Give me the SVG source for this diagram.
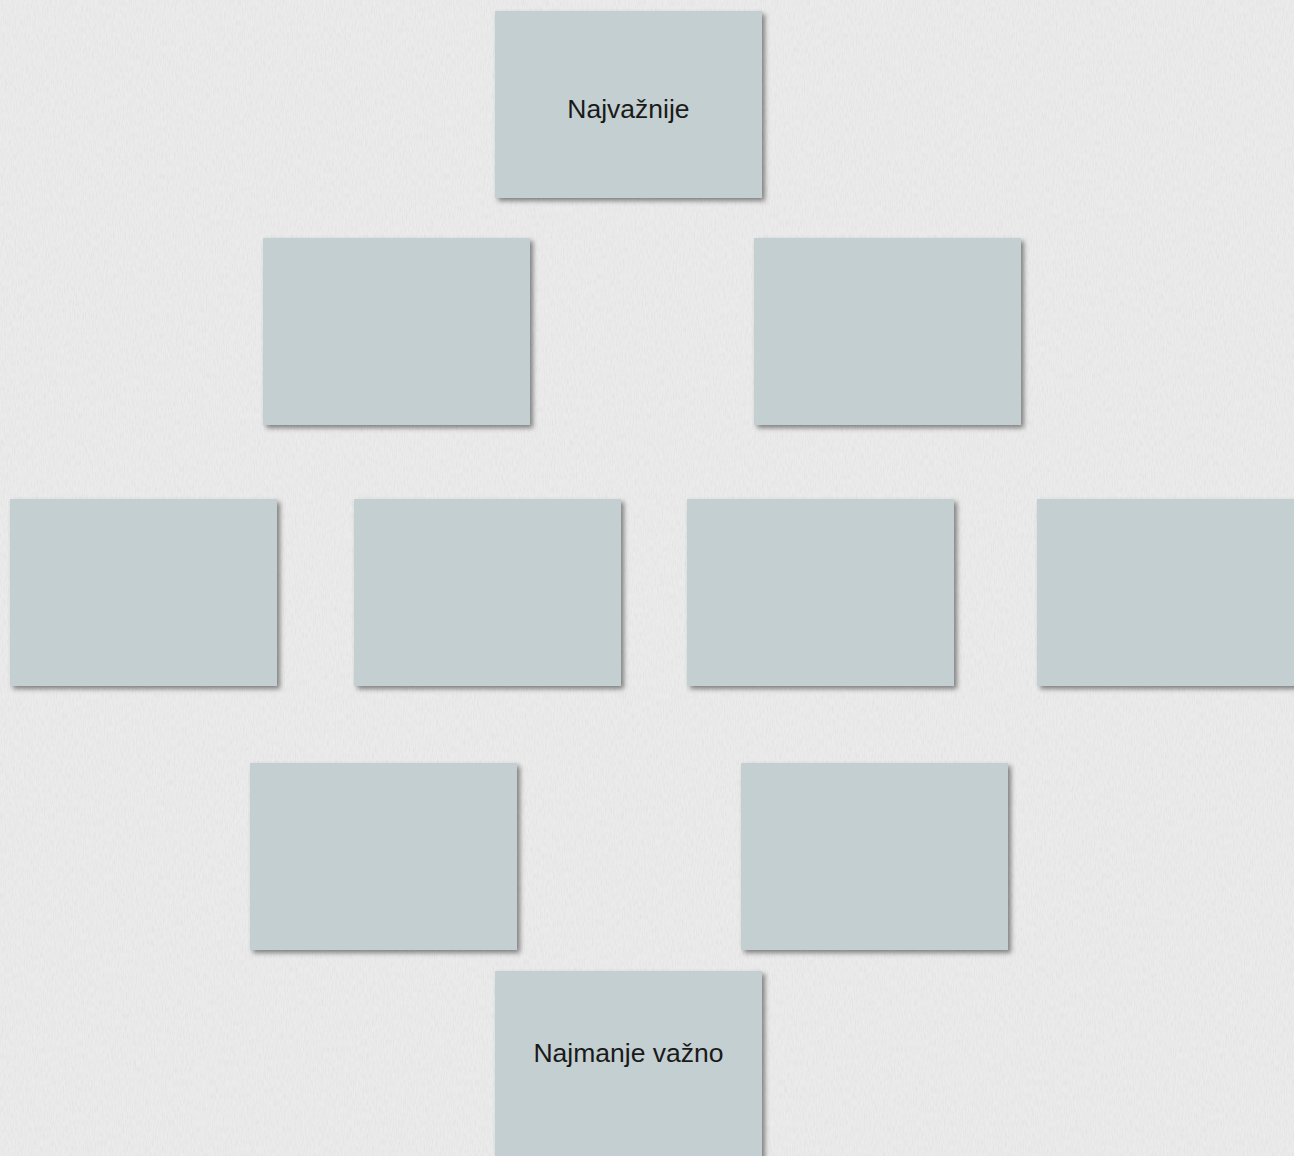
<svg xmlns="http://www.w3.org/2000/svg" width="1294" height="1156" viewBox="0 0 1294 1156">
<style>
.box{fill:#c3cfd0;filter:url(#sh)}
.lbl{font-family:"Liberation Sans",Arial,sans-serif;font-size:26.5px;fill:#1a1a1a;text-anchor:middle}
</style>
<defs>
<filter id="sh" x="-10%" y="-10%" width="125%" height="125%">
<feDropShadow dx="3" dy="3" stdDeviation="2.5" flood-color="#000" flood-opacity="0.45"/>
</filter>
<filter id="tex" x="0" y="0" width="100%" height="100%">
<feTurbulence type="fractalNoise" baseFrequency="0.9 0.15" numOctaves="2" seed="3" result="n"/>
<feColorMatrix in="n" type="matrix" values="0 0 0 0 0.55  0 0 0 0 0.55  0 0 0 0 0.55  0 0 0 -1.2 0.75" result="a"/>
<feComposite in="a" in2="SourceGraphic" operator="in"/>
</filter>
</defs>
<rect width="1294" height="1156" fill="#ebebeb"/>
<rect width="1294" height="1156" fill="#ebebeb" filter="url(#tex)" opacity="0.35"/>
<g id="connectors"/>
<g id="n-top"><rect class="box" x="495" y="11" width="267" height="187"/><text class="lbl" x="628.5" y="118">Najvažnije</text></g>
<g id="n-r2a"><rect class="box" x="263" y="238" width="267" height="187"/></g>
<g id="n-r2b"><rect class="box" x="754" y="238" width="267" height="187"/></g>
<g id="n-r3a"><rect class="box" x="10" y="499" width="267" height="187"/></g>
<g id="n-r3b"><rect class="box" x="354" y="499" width="267" height="187"/></g>
<g id="n-r3c"><rect class="box" x="687" y="499" width="267" height="187"/></g>
<g id="n-r3d"><rect class="box" x="1037" y="499" width="267" height="187"/></g>
<g id="n-r4a"><rect class="box" x="250" y="763" width="267" height="187"/></g>
<g id="n-r4b"><rect class="box" x="741" y="763" width="267" height="187"/></g>
<g id="n-bottom"><rect class="box" x="495" y="971" width="267" height="200"/><text class="lbl" x="628.5" y="1062">Najmanje važno</text></g>
</svg>
